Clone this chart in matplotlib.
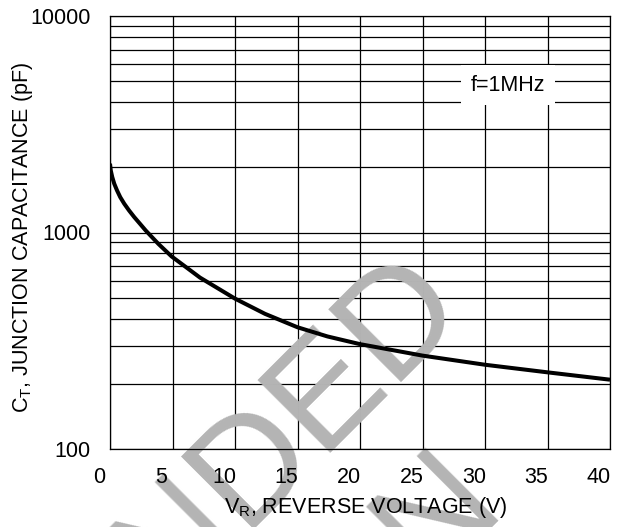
import matplotlib
matplotlib.use("Agg")
import matplotlib.pyplot as plt
import matplotlib.transforms as mtransforms

# ---- data ----
voltage = [0, 0.06, 0.18, 0.34, 0.56, 0.82, 1.14, 1.52, 1.94, 2.4, 2.86, 3.87, 4.93,
           6.27, 7.2, 10, 12.4, 15, 17.4, 20, 22.5, 25, 30, 35, 40]
capacitance = [2080, 1936, 1803, 1680, 1565, 1456, 1358, 1265, 1178, 1097, 1021, 886, 775,
               679, 619, 495, 421, 365, 331, 305, 287, 270, 245, 226, 209]

x_ticks = [0, 5, 10, 15, 20, 25, 30, 35, 40]
x_tick_labels = ["0", "5", "10", "15", "20", "25", "30", "35", "40"]
y_ticks = [100, 1000, 10000]
y_tick_labels = ["100", "1000", "10000"]
y_grid = [m * 10 ** e for e in (2, 3) for m in range(1, 10)] + [10000]

plt.rcParams["font.family"] = ["Liberation Sans", "DejaVu Sans"]
plt.rcParams["mathtext.fontset"] = "custom"
plt.rcParams["mathtext.rm"] = "Liberation Sans"

FS = 15.5
W, H = 625, 527
fig = plt.figure(figsize=(W / 100, H / 100), dpi=100)
ax = fig.add_axes([110 / W, 1 - 449 / H, 500 / W, 433 / H])
ax.set_yscale("log")
ax.set_xlim(0, 40)
ax.set_ylim(100, 10000)
ax.set_axisbelow(False)

# grid
for yv in y_grid:
    ax.axhline(yv, color="black", lw=0.9, zorder=1)
for xv in x_ticks:
    ax.axvline(xv, color="black", lw=0.9, zorder=1)

ax.plot(voltage, capacitance, color="black", lw=2.9, zorder=3,
        solid_capstyle="butt", solid_joinstyle="round")

ax.set_xticks(x_ticks)
ax.set_xticklabels(x_tick_labels)
ax.set_yticks(y_ticks)
ax.set_yticklabels(y_tick_labels)
ax.yaxis.set_minor_locator(matplotlib.ticker.NullLocator())
ax.tick_params(axis="both", length=0, labelsize=FS, colors="black")
ax.tick_params(axis="x", pad=13)
ax.tick_params(axis="y", pad=13.7)
shift = mtransforms.ScaledTranslation(-11 / 100, 0, fig.dpi_scale_trans)
for lab in ax.get_xticklabels():
    lab.set_transform(lab.get_transform() + shift)

for s in ax.spines.values():
    s.set_color("black")
    s.set_linewidth(0.9)

ax.set_xlabel(r"V$_\mathregular{R}$, REVERSE VOLTAGE (V)", fontsize=FS)
ax.xaxis.set_label_coords((366 - 110) / 500, (449 - 508) / 433)
ax.xaxis.label.set_va("center")
ax.set_ylabel(r"C$_\mathregular{T}$, JUNCTION CAPACITANCE (pF)", fontsize=FS)
ax.yaxis.set_label_coords((23 - 110) / 500, (449 - 237) / 433)
ax.yaxis.label.set_va("center")

ax.text(31.84, 4800, "f=1MHz", fontsize=FS, ha="center", va="center", zorder=4,
        bbox=dict(boxstyle="square,pad=0.45", facecolor="white", edgecolor="none"))

# watermark
wm_color = "#b4b4b4"
ax.text(470 / W, 1 - 314 / H, "NOT RECOMMENDED", transform=fig.transFigure,
        fontsize=108, color=wm_color, rotation=45, rotation_mode="anchor",
        ha="right", va="baseline", zorder=1.8, clip_on=False)
ax.text(508 / W, 1 - 512 / H, "FOR NEW DESIGN", transform=fig.transFigure,
        fontsize=108, color=wm_color, rotation=45, rotation_mode="anchor",
        ha="right", va="baseline", zorder=1.8, clip_on=False)

fig.savefig("out.png", dpi=100)
